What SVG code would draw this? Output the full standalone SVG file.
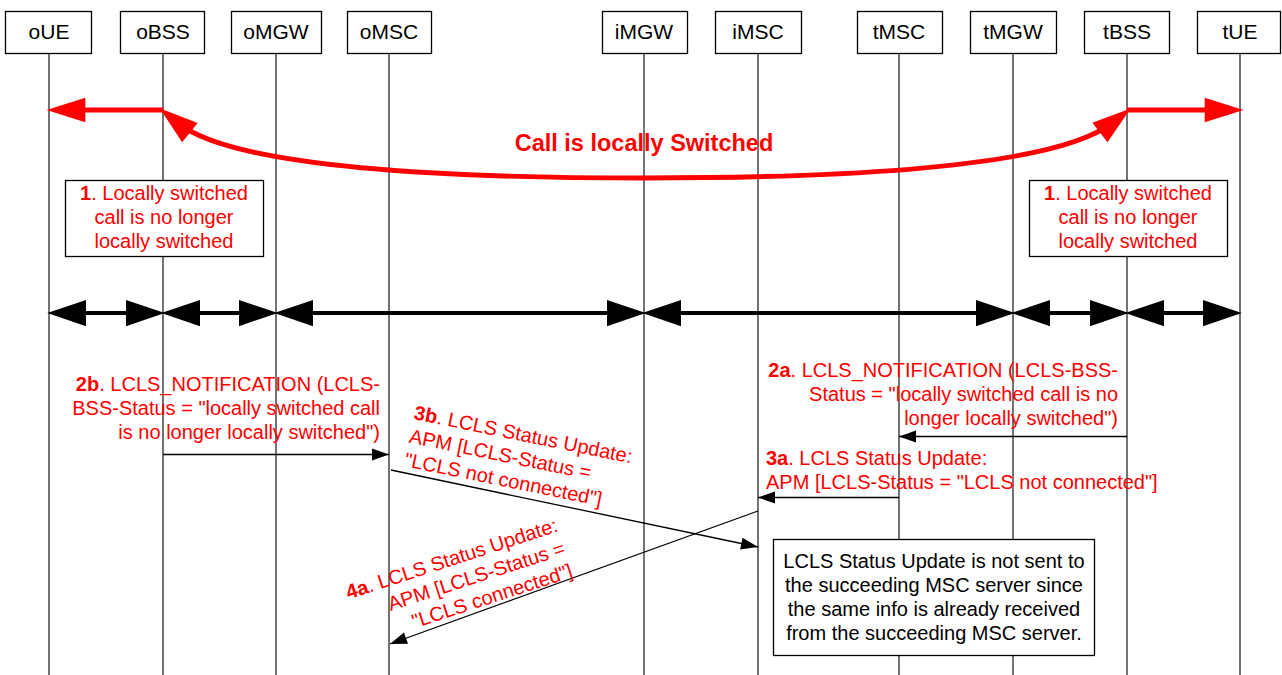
<svg xmlns="http://www.w3.org/2000/svg" width="1282" height="675" viewBox="0 0 1282 675">
<style>
text{font-family:"Liberation Sans",Arial,sans-serif;}
.box{fill:#fff;stroke:#000;stroke-width:1.3;}
.life{stroke:#000;stroke-width:1.1;fill:none;}
.hd{font-size:21px;fill:#000;text-anchor:middle;}
.lbl{font-size:20px;fill:#f00;}
.note{font-size:20px;fill:#000;text-anchor:middle;}
.b{font-weight:bold;}
.red{stroke:#f00;stroke-width:5;fill:none;}
.dbl{stroke:#000;stroke-width:4;fill:none;marker-start:url(#bk);marker-end:url(#bk);}
.msg{stroke:#000;stroke-width:1.3;fill:none;marker-end:url(#sm);}
</style>
<defs>
<marker id="rd" markerUnits="userSpaceOnUse" markerWidth="40" markerHeight="30" viewBox="0 -12 34 24" refX="13" refY="0" orient="auto-start-reverse" overflow="visible"><path d="M0,-10.5 L33,0 L0,10.5 z" fill="#f00"/></marker>
<marker id="bk" markerUnits="userSpaceOnUse" markerWidth="40" markerHeight="30" viewBox="0 -12 32 24" refX="16" refY="0" orient="auto-start-reverse" overflow="visible"><path d="M0,-10.5 L31,0 L0,10.5 z" fill="#000"/></marker>
<marker id="sm" markerUnits="userSpaceOnUse" markerWidth="20" markerHeight="14" viewBox="0 -7 18 14" refX="17" refY="0" orient="auto" overflow="visible"><path d="M0,-6 L17,0 L0,6 z" fill="#000"/></marker>
</defs>
<rect width="1282" height="675" fill="#fff"/>
<g id="oUE"><line class="life" x1="49" y1="53" x2="49" y2="675"/><rect class="box" x="5.5" y="11.5" width="86" height="42"/><text class="hd" x="49" y="39">oUE</text></g>
<g id="oBSS"><line class="life" x1="163" y1="53" x2="163" y2="675"/><rect class="box" x="120.5" y="11.5" width="84" height="42"/><text class="hd" x="163" y="39">oBSS</text></g>
<g id="oMGW"><line class="life" x1="276" y1="53" x2="276" y2="675"/><rect class="box" x="231.5" y="11.5" width="90" height="42"/><text class="hd" x="276" y="39">oMGW</text></g>
<g id="oMSC"><line class="life" x1="389" y1="53" x2="389" y2="675"/><rect class="box" x="347.5" y="11.5" width="84" height="42"/><text class="hd" x="389" y="39">oMSC</text></g>
<g id="iMGW"><line class="life" x1="644" y1="53" x2="644" y2="675"/><rect class="box" x="602.5" y="11.5" width="85" height="42"/><text class="hd" x="644" y="39">iMGW</text></g>
<g id="iMSC"><line class="life" x1="758" y1="53" x2="758" y2="675"/><rect class="box" x="715.5" y="11.5" width="86" height="42"/><text class="hd" x="758" y="39">iMSC</text></g>
<g id="tMSC"><line class="life" x1="899" y1="53" x2="899" y2="675"/><rect class="box" x="857.5" y="11.5" width="85" height="42"/><text class="hd" x="899" y="39">tMSC</text></g>
<g id="tMGW"><line class="life" x1="1013" y1="53" x2="1013" y2="675"/><rect class="box" x="970.5" y="11.5" width="86" height="42"/><text class="hd" x="1013" y="39">tMGW</text></g>
<g id="tBSS"><line class="life" x1="1127" y1="53" x2="1127" y2="675"/><rect class="box" x="1084.5" y="11.5" width="85" height="42"/><text class="hd" x="1127" y="39">tBSS</text></g>
<g id="tUE"><line class="life" x1="1240" y1="53" x2="1240" y2="675"/><rect class="box" x="1197.5" y="11.5" width="83" height="42"/><text class="hd" x="1240" y="39">tUE</text></g>

<g id="note1-left"><rect class="box" x="65.5" y="180.5" width="198" height="76"/>
<text class="lbl" text-anchor="middle" x="164" y="200"><tspan class="b">1</tspan>. Locally switched</text>
<text class="lbl" text-anchor="middle" x="164" y="224">call is no longer</text>
<text class="lbl" text-anchor="middle" x="164" y="248">locally switched</text></g>
<g id="note1-right"><rect class="box" x="1029.5" y="180.5" width="198" height="76"/>
<text class="lbl" text-anchor="middle" x="1128" y="200"><tspan class="b">1</tspan>. Locally switched</text>
<text class="lbl" text-anchor="middle" x="1128" y="224">call is no longer</text>
<text class="lbl" text-anchor="middle" x="1128" y="248">locally switched</text></g>
<g id="note-msc"><rect class="box" x="773.5" y="539.5" width="321" height="116"/>
<text class="note" x="934" y="568">LCLS Status Update is not sent to</text>
<text class="note" x="934" y="592">the succeeding MSC server since</text>
<text class="note" x="934" y="616">the same info is already received</text>
<text class="note" x="934" y="640">from the succeeding MSC server.</text></g>

<g id="connectors">
<path class="red" d="M163,110 L70,110" marker-end="url(#rd)"/>
<path class="red" d="M1127,110 L1220,110" marker-end="url(#rd)"/>
<path class="red" d="M178,123 C230,165 420,178 644,178 C868,178 1058,165 1112,123" marker-start="url(#rd)" marker-end="url(#rd)"/>
<text class="lbl b" text-anchor="middle" x="644" y="151" style="font-size:23.5px">Call is locally Switched</text>
<path class="dbl" d="M66,313 L146,313"/>
<path class="dbl" d="M180,313 L259,313"/>
<path class="dbl" d="M293,313 L627,313"/>
<path class="dbl" d="M661,313 L996,313"/>
<path class="dbl" d="M1030,313 L1110,313"/>
<path class="dbl" d="M1144,313 L1223,313"/>
<path class="msg" d="M163,454.5 L389,454.5"/>
<text class="lbl" text-anchor="end" x="380" y="391"><tspan class="b">2b</tspan>. LCLS_NOTIFICATION (LCLS-</text>
<text class="lbl" text-anchor="end" x="380" y="415">BSS-Status = "locally switched call</text>
<text class="lbl" text-anchor="end" x="380" y="439">is no longer locally switched")</text>
<path class="msg" d="M1127,436.5 L899,436.5"/>
<text class="lbl" text-anchor="end" x="1118" y="377"><tspan class="b">2a</tspan>. LCLS_NOTIFICATION (LCLS-BSS-</text>
<text class="lbl" text-anchor="end" x="1118" y="401">Status = "locally switched call is no</text>
<text class="lbl" text-anchor="end" x="1118" y="425">longer locally switched")</text>
<path class="msg" d="M899,497.5 L758,497.5"/>
<text class="lbl" x="766" y="465"><tspan class="b">3a</tspan>. LCLS Status Update:</text>
<text class="lbl" x="766" y="489">APM [LCLS-Status = "LCLS not connected"]</text>
<path class="msg" d="M391,470 L758,547"/>
<g transform="translate(413,419) rotate(11.5)">
<text class="lbl" x="0" y="0"><tspan class="b">3b</tspan>. LCLS Status Update:</text>
<text class="lbl" x="0" y="24">APM [LCLS-Status =</text>
<text class="lbl" x="0" y="48">"LCLS not connected"]</text></g>
<path class="msg" d="M758,511 L390,644"/>
<g transform="translate(559,531) rotate(-18)">
<text class="lbl" text-anchor="end" x="0" y="0"><tspan class="b">4a</tspan>. LCLS Status Update:</text>
<text class="lbl" text-anchor="end" x="0" y="24">APM [LCLS-Status =</text>
<text class="lbl" text-anchor="end" x="0" y="48">"LCLS connected"]</text></g>
</g>
</svg>
